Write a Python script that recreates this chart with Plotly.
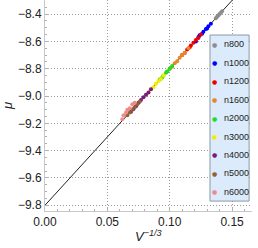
import plotly.graph_objects as go

# ---- data ----
series_names = ["n800", "n1000", "n1200", "n1600", "n2000", "n3000", "n4000", "n5000", "n6000"]
series_colors = ["#8c8c8c", "#0000ff", "#ee0000", "#e8862a", "#22dd22", "#eeee00", "#7a1a80", "#8f6235", "#f08a8a"]

x_n800 = [0.137, 0.138, 0.139, 0.140, 0.141, 0.142]
y_n800 = [-8.43, -8.42, -8.41, -8.40, -8.39, -8.38]
x_n1000 = [0.121, 0.123, 0.124, 0.126, 0.127, 0.129, 0.130, 0.131, 0.133]
y_n1000 = [-8.60, -8.57, -8.555, -8.545, -8.53, -8.51, -8.505, -8.49, -8.47]
x_n1200 = [0.110, 0.112, 0.114, 0.116, 0.117, 0.119, 0.121, 0.123, 0.125]
y_n1200 = [-8.70, -8.685, -8.66, -8.645, -8.63, -8.61, -8.59, -8.575, -8.55]
x_n1600 = [0.098, 0.100, 0.102, 0.104, 0.106, 0.108, 0.110, 0.112, 0.115]
y_n1600 = [-8.82, -8.80, -8.785, -8.76, -8.745, -8.72, -8.70, -8.685, -8.65]
x_n2000 = [0.092, 0.094, 0.095, 0.097, 0.098, 0.100, 0.102]
y_n2000 = [-8.88, -8.865, -8.85, -8.83, -8.82, -8.80, -8.78]
x_n3000 = [0.081, 0.083, 0.085, 0.087, 0.089, 0.091, 0.093, 0.095]
y_n3000 = [-8.99, -8.975, -8.95, -8.935, -8.91, -8.89, -8.875, -8.85]
x_n4000 = [0.069, 0.071, 0.073, 0.075, 0.077, 0.079, 0.081, 0.083, 0.085]
y_n4000 = [-9.115, -9.095, -9.075, -9.05, -9.03, -9.01, -8.99, -8.975, -8.95]
x_n5000 = [0.066, 0.068, 0.070, 0.072, 0.074, 0.076]
y_n5000 = [-9.14, -9.12, -9.10, -9.08, -9.06, -9.04]
x_n6000 = [0.062, 0.063, 0.065, 0.066, 0.068, 0.070, 0.072]
y_n6000 = [-9.17, -9.14, -9.12, -9.10, -9.09, -9.06, -9.05]

series_x = [x_n800, x_n1000, x_n1200, x_n1600, x_n2000, x_n3000, x_n4000, x_n5000, x_n6000]
series_y = [y_n800, y_n1000, y_n1200, y_n1600, y_n2000, y_n3000, y_n4000, y_n5000, y_n6000]

fit_x = [0.0, 0.16]
fit_y = [-9.80, -8.20]

x_ticks = [0.00, 0.05, 0.10, 0.15]
x_tick_labels = ["0.00", "0.05", "0.10", "0.15"]
y_ticks = [-9.8, -9.6, -9.4, -9.2, -9.0, -8.8, -8.6, -8.4]

# ---- figure ----
fig = go.Figure()
fig.add_trace(go.Scatter(x=fit_x, y=fit_y, mode="lines",
                         line=dict(color="#222222", width=1), showlegend=False,
                         hoverinfo="skip"))
for name, color, xs, ys in zip(series_names, series_colors, series_x, series_y):
    fig.add_trace(go.Scatter(x=xs, y=ys, mode="markers", name=name,
                             marker=dict(color=color, size=4, line=dict(width=0)),
                             showlegend=False))

# manual compact legend (box + entries)
lx0, lx1, ly0, ly1 = 0.797, 0.986, 0.047, 0.834
fig.add_shape(type="rect", xref="paper", yref="paper", x0=lx0, x1=lx1, y0=ly0, y1=ly1,
              fillcolor="#dcebfb", line=dict(color="#8a9aa8", width=1), layer="above")
n = len(series_names)
step = (ly1 - ly0) / n
for i, (name, color) in enumerate(zip(series_names, series_colors)):
    yc = ly1 - step * (i + 0.5)
    fig.add_annotation(x=lx0 + 0.024, y=yc, xref="paper", yref="paper", text="●",
                       showarrow=False, font=dict(color=color, size=6, family="DejaVu Sans"),
                       xanchor="center", yanchor="middle")
    fig.add_annotation(x=lx0 + 0.058, y=yc, xref="paper", yref="paper", text=name,
                       showarrow=False, font=dict(color="#222222", size=9, family="Liberation Sans"),
                       xanchor="left", yanchor="middle")

# x-axis title placed as annotation for exact vertical position
fig.add_annotation(x=0.5, y=0, xref="paper", yref="paper", yshift=-15,
                   text="<i>V</i><sup><i>−1/3</i></sup>", showarrow=False,
                   font=dict(size=13, color="#222222", family="Liberation Sans"),
                   xanchor="center", yanchor="top")

axis_common = dict(showgrid=True, gridcolor="#9a9a9a", griddash="1px,2px", gridwidth=1,
                   showline=True, linecolor="#c8c8c8", linewidth=1,
                   ticks="inside", ticklen=4, tickcolor="#b0b0b0", automargin=False,
                   zeroline=False, tickfont=dict(size=12, color="#222222", family="Liberation Sans"))

fig.update_xaxes(range=[0, 0.166], tickvals=x_ticks, ticktext=x_tick_labels,
                 minor=dict(ticks="inside", dtick=0.01, ticklen=2, tickcolor="#b0b0b0", showgrid=False),
                 **axis_common)
fig.update_yaxes(range=[-9.842, -8.297], tickvals=y_ticks, tickformat=".1f",
                 minor=dict(ticks="inside", dtick=0.05, ticklen=2, tickcolor="#b0b0b0", showgrid=False),
                 title=dict(text="<i>μ</i>", font=dict(size=13, color="#222222", family="Liberation Sans"),
                            standoff=4),
                 **axis_common)

fig.update_layout(width=258, height=248, autosize=False,
                  margin=dict(l=45, r=6, t=0, b=37),
                  paper_bgcolor="white", plot_bgcolor="white", showlegend=False)

fig.write_html("out.html", config={"displayModeBar": False},
               post_script="document.body.style.margin='0';")
